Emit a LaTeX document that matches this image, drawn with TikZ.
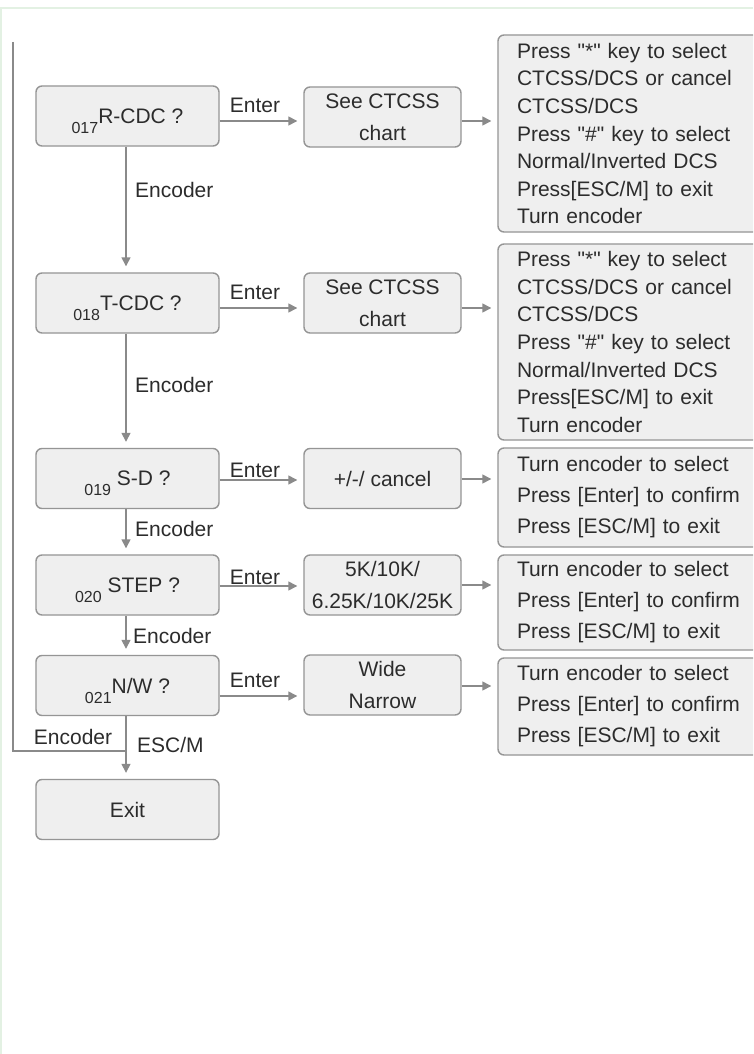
\documentclass[tikz,border=0pt]{standalone}
\usepackage{fontspec}
\setmainfont{Liberation Sans}[Ligatures=TeXOff]
\usetikzlibrary{arrows.meta}
\definecolor{boxfill}{HTML}{EFEFEF}
\definecolor{boxline}{HTML}{959595}
\definecolor{wire}{HTML}{8A8A8A}
\definecolor{ink}{HTML}{2C2C2C}
\definecolor{frame}{HTML}{E3F1E3}
\tikzset{
  every node/.style={text=ink, font=\fontsize{21}{25}\selectfont},
  lbox/.style={draw=boxline, fill=boxfill, line width=1.4pt, rounded corners=6pt,
    minimum width=183pt, minimum height=60pt, inner sep=0pt, align=center},
  mbox/.style={draw=boxline, fill=boxfill, line width=1.4pt, rounded corners=6pt,
    minimum width=157pt, minimum height=60pt, inner sep=0pt, align=center,
    font=\fontsize{21}{32}\selectfont},
  rbox/.style={draw=boxline, fill=boxfill, line width=1.4pt, rounded corners=6pt,
    inner xsep=19pt, inner ysep=0pt, text width=234pt, align=left},
  rbig/.style={rbox, font=\fontsize{21}{27.6}\selectfont},
  rsmall/.style={rbox, font=\fontsize{21}{31}\selectfont},
  arr/.style={draw=wire, line width=1.4pt, -{Triangle[length=9pt,width=9pt]}, shorten >=6pt},
  wireline/.style={draw=wire, line width=1.4pt},
  lbl/.style={inner sep=0pt}
}
\newcommand{\sublbl}[1]{{\fontsize{16}{16}\selectfont\raisebox{-10pt}[0pt][0pt]{#1}}}
\begin{document}
\begin{tikzpicture}[x=1pt,y=-1pt]
\useasboundingbox (0,0) rectangle (753,1054);
\fill[white] (0,0) rectangle (753,1054);
\draw[frame, line width=1.5pt] (1,1054) -- (1,8) -- (753,8);
\begin{scope}
\clip (0,0) rectangle (753,1054);
% left column
\node[lbox] (rcdc) at (127.5,116) {\sublbl{017}R-CDC ?};
\node[lbox] (tcdc) at (127.5,303) {\sublbl{018}T-CDC ?};
\node[lbox] (sd)   at (127.5,478.5) {\sublbl{019} S-D ?};
\node[lbox] (step) at (127.5,585) {\sublbl{020} STEP ?};
\node[lbox] (nw)   at (127.5,685.5) {\sublbl{021}N/W ?};
\node[lbox] (exit) at (127.5,809.5) {Exit};
% middle column
\node[mbox] (see1) at (382.5,117) {See CTCSS\\chart};
\node[mbox] (see2) at (382.5,303) {See CTCSS\\chart};
\node[mbox] (pm)   at (382.5,478.5) {+/-/ cancel};
\node[mbox] (steps) at (382.5,585) {5K/10K/\\6.25K/10K/25K};
\node[mbox] (wide) at (382.5,685) {Wide\\Narrow};
% right column
\node[rbig, minimum height=197pt] (r1) at (634,133.5) {Press "*" key to select\\CTCSS/DCS or cancel\\CTCSS/DCS\\Press "\#" key to select\\Normal/Inverted DCS\\Press[ESC/M] to exit\\Turn encoder};
\node[rbig, minimum height=196pt] (r2) at (634,342) {Press "*" key to select\\CTCSS/DCS or cancel\\CTCSS/DCS\\Press "\#" key to select\\Normal/Inverted DCS\\Press[ESC/M] to exit\\Turn encoder};
\node[rsmall, minimum height=99pt] (r3) at (634,497.5) {Turn encoder to select\\Press [Enter] to confirm\\Press [ESC/M] to exit};
\node[rsmall, minimum height=95pt] (r4) at (634,602.5) {Turn encoder to select\\Press [Enter] to confirm\\Press [ESC/M] to exit};
\node[rsmall, minimum height=97pt] (r5) at (634,706.5) {Turn encoder to select\\Press [Enter] to confirm\\Press [ESC/M] to exit};
% Enter arrows
\draw[arr] (rcdc.east |- 0,121) -- (see1.west |- 0,121);
\draw[arr] (tcdc.east |- 0,308) -- (see2.west |- 0,308);
\draw[arr] (sd.east |- 0,480) -- (pm.west |- 0,480);
\draw[arr] (step.east |- 0,586) -- (steps.west |- 0,586);
\draw[arr] (nw.east |- 0,696) -- (wide.west |- 0,696);
\node[lbl] (e1) at (255,105) {Enter};
\node[lbl] (e2) at (255,292) {Enter};
\node[lbl] (e3) at (255,470) {Enter};
\node[lbl] (e4) at (255,577) {Enter};
\node[lbl] (e5) at (255,680) {Enter};
% middle to right arrows
\draw[arr] (see1.east |- 0,121) -- (r1.west |- 0,121);
\draw[arr] (see2.east |- 0,308) -- (r2.west |- 0,308);
\draw[arr] (pm.east |- 0,479) -- (r3.west |- 0,479);
\draw[arr] (steps.east |- 0,585) -- (r4.west |- 0,585);
\draw[arr] (wide.east |- 0,686) -- (r5.west |- 0,686);
% encoder arrows
\draw[arr] (rcdc.south -| 126,0) -- (tcdc.north -| 126,0);
\draw[arr] (tcdc.south -| 126,0) -- (sd.north -| 126,0);
\draw[arr] (sd.south -| 126,0) -- (step.north -| 126,0);
\draw[arr] (step.south -| 126,0) -- (nw.north -| 126,0);
\draw[arr] (nw.south -| 126,0) -- (exit.north -| 126,0);
\node[lbl, anchor=west] (c1) at (135,190) {Encoder};
\node[lbl, anchor=west] (c2) at (135,385) {Encoder};
\node[lbl, anchor=west] (c3) at (135,529) {Encoder};
\node[lbl, anchor=west] (c4) at (133,636) {Encoder};
\node[lbl, anchor=west] (esc) at (137,745) {ESC/M};
% loop back
\coordinate (looptop) at (13,42);
\coordinate (loopend) at (126,751);
\draw[wireline] (looptop) |- (loopend);
\node[lbl] (c5) at (73,737) {Encoder};
\end{scope}
\end{tikzpicture}
\end{document}
